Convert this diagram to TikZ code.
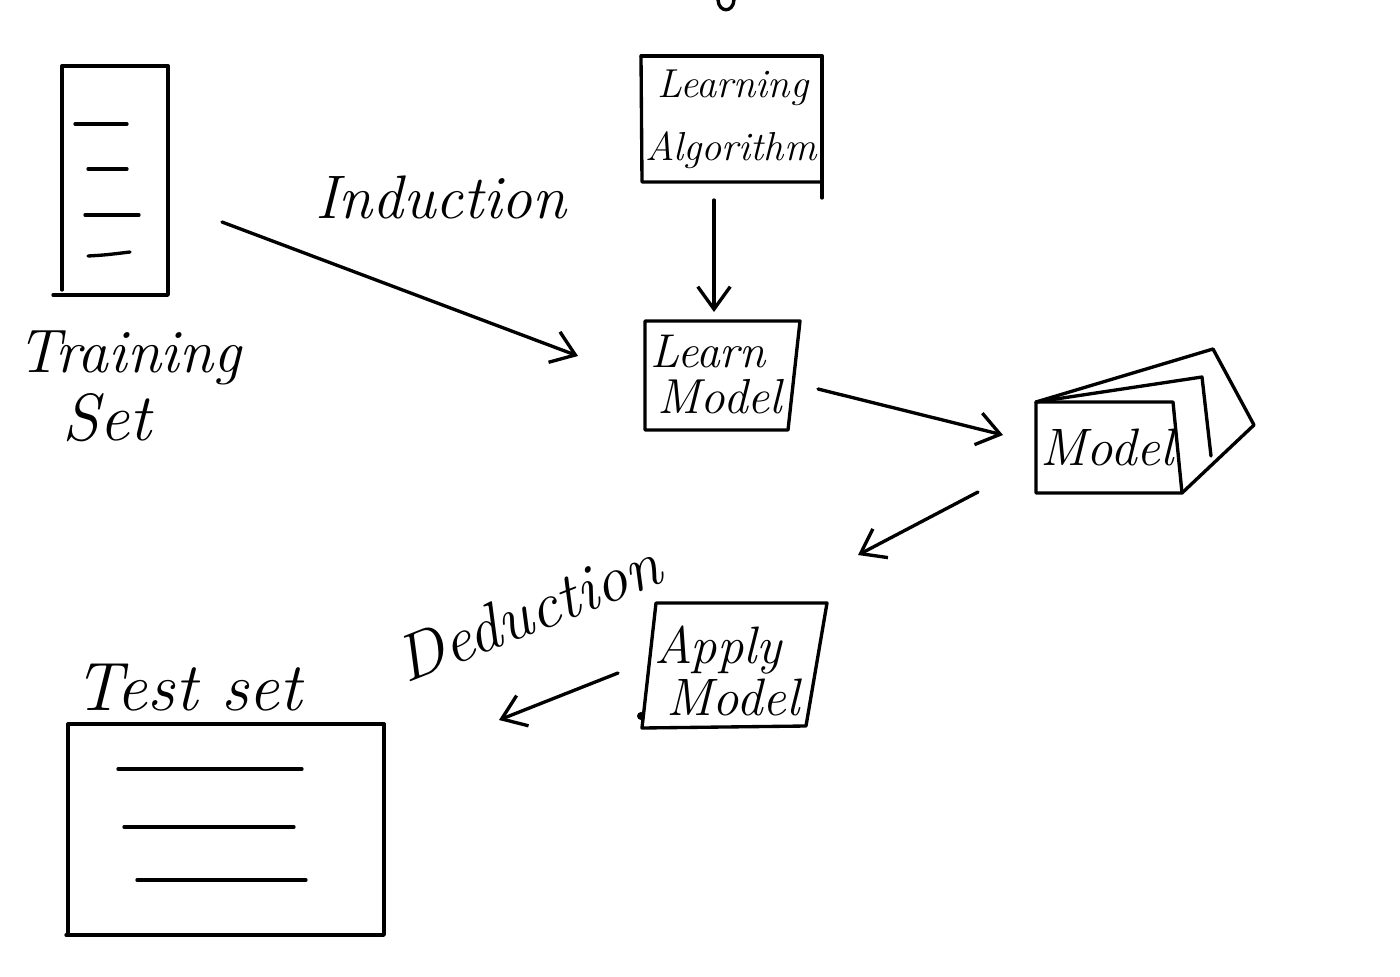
\documentclass[tikz,border=0pt]{standalone}
\usetikzlibrary{arrows.meta}
\begin{document}
\begin{tikzpicture}[x=0.02cm,y=-0.02cm,
  ink/.style={line width=1.9pt, line join=round, line cap=round},
  arr/.style={ink,-{Straight Barb[length=4.5mm,width=6.5mm,line width=1.9pt]}},
  hand/.style={inner sep=0pt, font=\itshape\fontsize{#1}{#1}\selectfont},
  hand/.default=30]
\useasboundingbox (0,0) rectangle (1400,977);

% cut-off fragment at top
\draw[ink] (718,0) .. controls (719,13) and (733,13) .. (734,0);

% Training set
\draw[ink] (62,290) -- (62,66) -- (168,66) -- (168,295) -- (53,295);
\draw[ink] (75,124) -- (127,124);
\draw[ink] (88,169) -- (127,169);
\draw[ink] (85,215) -- (139,215);
\draw[ink] (88,256) .. controls (105,255) .. (130,252);
\node[hand=35] (trainA) at (129,358) {Training};
\node[hand=38] (trainB) at (107,418) {Set};

% Induction
\coordinate (ind1) at (222,222);
\coordinate (ind2) at (578,356);
\draw[arr] (ind1) -- (ind2);
\node[hand=35] (induction) at (441,197) {Induction};

% Learning Algorithm
\draw[ink] (641,56) -- (822,56) -- (822,198);
\draw[ink] (641,56) -- (642,182) -- (822,182);
\node[hand=23] (la1) at (733,88) {Learning};
\node[hand=23] (la2) at (731,150) {Algorithm};
\coordinate (la) at (714,200);
\coordinate (lmtop) at (714,312);
\draw[arr] (la) -- (lmtop);

% Learn Model
\draw[ink] (645,321) -- (800,321) -- (788,430) -- (645,430) -- cycle;
\node[hand=27] (lm1) at (708,352) {Learn};
\node[hand=28] (lm2) at (720,397) {Model};
\coordinate (lm) at (818,389);
\coordinate (mdl) at (1003,435);
\draw[arr] (lm) -- (mdl);

% Model sheets
\draw[ink] (1036,402) -- (1213,349) -- (1254,425) -- (1182,493);
\draw[ink] (1036,402) -- (1202,377) -- (1211,456);
\draw[ink] (1036,402) -- (1173,402) -- (1182,493) -- (1036,493) -- cycle;
\node[hand=30] (model) at (1107,447) {Model};
\coordinate (mdlout) at (978,492);
\coordinate (amin) at (858,555);
\draw[arr] (mdlout) -- (amin);

% Deduction
\node[hand=37, rotate=21.6] (deduction) at (528,612) {Deduction};

% Apply Model
\draw[ink] (656,603) -- (827,603) -- (806,726) -- (642,728) -- cycle;
\fill (641,716) circle (4);
\node[hand=30] (am1) at (718,650) {Apply};
\node[hand=30] (am2) at (733,697) {Model};
\coordinate (amout) at (618,673);
\coordinate (ts) at (499,720);
\draw[arr] (amout) -- (ts);

% Test set
\node[hand=39] (testlbl) at (188,688) {Test set};
\draw[ink] (68,724) -- (384,724) -- (384,935) -- (66,935);
\draw[ink] (68,724) -- (68,935);
\draw[ink] (118,769) -- (302,769);
\draw[ink] (124,827) -- (294,827);
\draw[ink] (137,880) -- (306,880);
\end{tikzpicture}
\end{document}
